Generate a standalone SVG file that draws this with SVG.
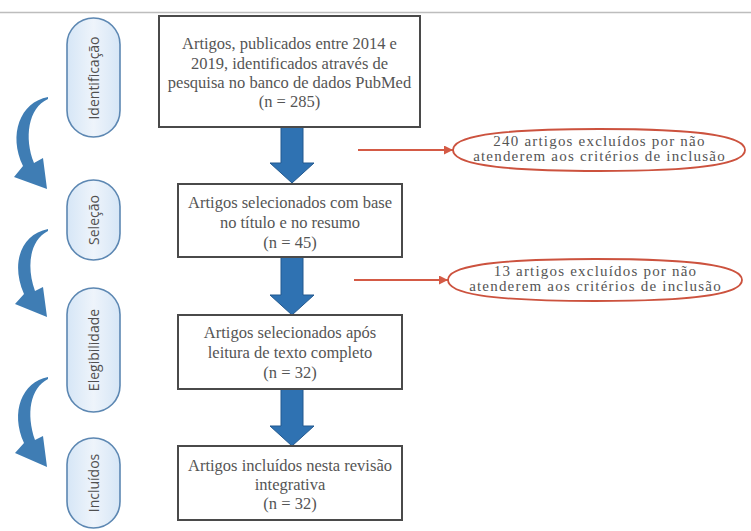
<svg xmlns="http://www.w3.org/2000/svg" width="751" height="531" viewBox="0 0 751 531">
<defs>
<style>
.box{fill:#fff;stroke:#4a4a4a;stroke-width:2}
.bt{font-family:"Liberation Serif",serif;font-size:16.5px;fill:#555;text-anchor:middle}
.et{font-family:"Liberation Serif",serif;font-size:15px;letter-spacing:1.2px;fill:#555;text-anchor:middle}
.pill{fill:url(#pg);stroke:#5c87b2;stroke-width:1.6}
.pt{font-family:"Open Sans",sans-serif;font-size:14px;fill:#505050;text-anchor:middle}
.ell{fill:#fff;stroke:#cc523e;stroke-width:1.8}
.rl{stroke:#d45a45;stroke-width:2;fill:none}
.ba{fill:#2f72b2;stroke:#23598f;stroke-width:1}
.ca{fill:#3f7db4}
</style>
<linearGradient id="pg" x1="0" y1="0" x2="1" y2="0">
<stop offset="0" stop-color="#d6e6f6"/>
<stop offset="0.5" stop-color="#eef4fb"/>
<stop offset="1" stop-color="#d6e6f6"/>
</linearGradient>
<marker id="rh" viewBox="0 0 10 10" refX="10" refY="5" markerWidth="5" markerHeight="4.5" orient="auto" markerUnits="strokeWidth">
<path d="M0,0 L10,5 L0,10 Z" fill="#d45a45"/>
</marker>
</defs>
<rect width="751" height="531" fill="#fff"/>
<line x1="0" y1="12.5" x2="751" y2="12.5" stroke="#bdbdbd" stroke-width="1.5"/>

<g id="connectors">
<path class="ba" d="M281,127 H303 V163 H314 L292,183 L270,163 H281 Z"/>
<path class="ba" d="M281,257 H303 V295 H314 L292,315 L270,295 H281 Z"/>
<path class="ba" d="M281,389 H303 V426 H314 L292,446 L270,426 H281 Z"/>
<line class="rl" x1="358" y1="150" x2="453" y2="150" marker-end="url(#rh)"/>
<line class="rl" x1="354" y1="280" x2="448" y2="280" marker-end="url(#rh)"/>
<path class="ca" d="M48,97 C20,102 8,135 23,166 L14,177 L47,189 L43,158 L34,163 C24,138 28,108 48,99 Z"/>
<path class="ca" d="M48,229 C22,234 10,262 24,294 L15,304 L47,317 L43,287 L35,291 C26,266 30,240 48,231 Z"/>
<path class="ca" d="M48,377 C22,382 10,412 24,443 L15,453 L47,467 L43,436 L35,440 C26,414 30,388 48,379 Z"/>
</g>

<g id="pill-identificacao">
<rect class="pill" x="67" y="18" width="53" height="119" rx="26.5"/>
<text class="pt" transform="translate(99,78) rotate(-90)">Identificação</text>
</g>
<g id="pill-selecao">
<rect class="pill" x="67" y="180" width="53" height="80" rx="26.5"/>
<text class="pt" transform="translate(99,220) rotate(-90)">Seleção</text>
</g>
<g id="pill-elegibilidade">
<rect class="pill" x="67" y="288" width="53" height="124" rx="26.5"/>
<text class="pt" transform="translate(99,350) rotate(-90)">Elegibilidade</text>
</g>
<g id="pill-incluidos">
<rect class="pill" x="67" y="438" width="53" height="90" rx="26.5"/>
<text class="pt" transform="translate(99,483) rotate(-90)">Incluídos</text>
</g>

<g id="box-identificacao">
<rect class="box" x="159" y="16" width="261" height="111" stroke-width="2.5"/>
<text class="bt" x="289.5" y="49">Artigos, publicados entre 2014 e</text>
<text class="bt" x="289.5" y="69">2019, identificados através de</text>
<text class="bt" x="289.5" y="88">pesquisa no banco de dados PubMed</text>
<text class="bt" x="289.5" y="107">(n = 285)</text>
</g>
<g id="box-selecao">
<rect class="box" x="178" y="184" width="224" height="73"/>
<text class="bt" x="290" y="208">Artigos selecionados com base</text>
<text class="bt" x="290" y="228">no título e no resumo</text>
<text class="bt" x="290" y="248">(n = 45)</text>
</g>
<g id="box-elegibilidade">
<rect class="box" x="178" y="315" width="224" height="74"/>
<text class="bt" x="290" y="338">Artigos selecionados após</text>
<text class="bt" x="290" y="358">leitura de texto completo</text>
<text class="bt" x="290" y="378">(n = 32)</text>
</g>
<g id="box-incluidos">
<rect class="box" x="178" y="446" width="224" height="74"/>
<text class="bt" x="290" y="471">Artigos incluídos nesta revisão</text>
<text class="bt" x="290" y="490">integrativa</text>
<text class="bt" x="290" y="509">(n = 32)</text>
</g>

<g id="excl-1">
<path class="ell" d="M453,150 C453,137 490,129 599,129 C708,129 745,137 745,150 C745,163 708,171 599,171 C490,171 453,163 453,150 Z"/>
<text class="et" x="599.5" y="145.5">240 artigos excluídos por não</text>
<text class="et" x="599.5" y="161">atenderem aos critérios de inclusão</text>
</g>
<g id="excl-2">
<path class="ell" d="M448,280 C448,267 485,259 595,259 C705,259 742,267 742,280 C742,293 705,301 595,301 C485,301 448,293 448,280 Z"/>
<text class="et" x="595.5" y="275.5">13 artigos excluídos por não</text>
<text class="et" x="595.5" y="291">atenderem aos critérios de inclusão</text>
</g>
</svg>
